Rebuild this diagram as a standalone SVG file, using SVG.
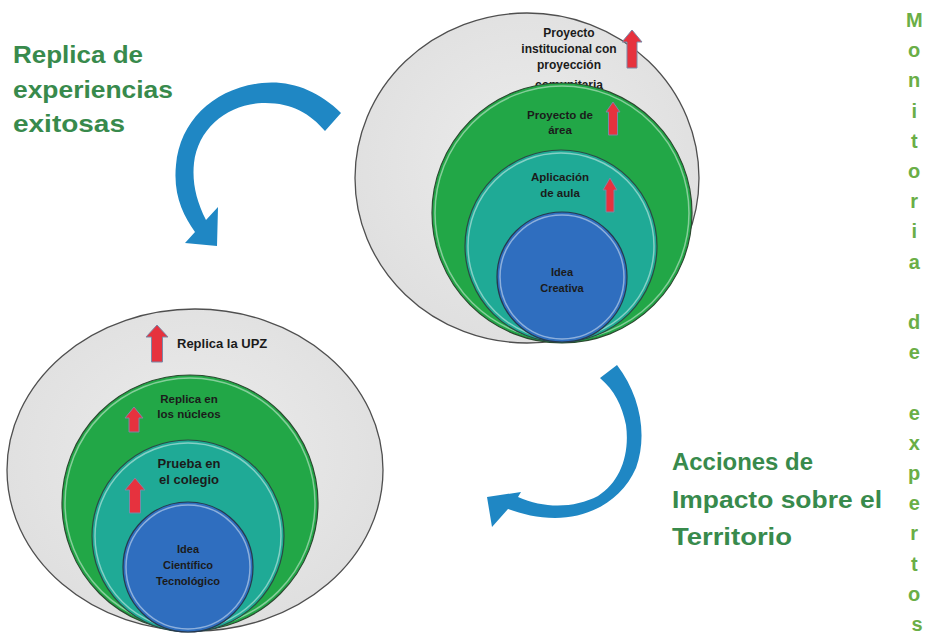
<svg xmlns="http://www.w3.org/2000/svg" width="929" height="639" viewBox="0 0 929 639">
<defs>
<radialGradient id="gOuter" cx="50%" cy="45%" r="60%">
<stop offset="0" stop-color="#ececec"/>
<stop offset="1" stop-color="#dedede"/>
</radialGradient>
<style>
.outer{fill:url(#gOuter);stroke:#4f4f4f;stroke-width:1.3}
.green{fill:#22a747;stroke:#2b4a30;stroke-width:1.2}
.teal{fill:#1faa96;stroke:#2b4a45;stroke-width:1.2}
.blue{fill:#2f6ebf;stroke:#27384f;stroke-width:1.2}
.rim{fill:none;stroke:#ffffff;stroke-opacity:0.45;stroke-width:1.5}
.red{fill:#e6323e;stroke:#7b88a6;stroke-width:1}
.lbl{font-family:"Liberation Sans",Arial,sans-serif;font-weight:bold;fill:#1b1b1b;text-anchor:middle}
.title{font-family:"Liberation Sans",Arial,sans-serif;font-weight:bold;font-size:24px;fill:#388a4c}
.vert{font-family:"Liberation Sans",Arial,sans-serif;font-weight:bold;font-size:20px;fill:#6aae47;text-anchor:middle}
.curve{fill:#1f87c4}
</style>
</defs>
<rect width="929" height="639" fill="#ffffff"/>

<g id="titulo-replica">
<text class="title" x="13" y="63" textLength="130" lengthAdjust="spacingAndGlyphs">Replica de</text>
<text class="title" x="13" y="98" textLength="160" lengthAdjust="spacingAndGlyphs">experiencias</text>
<text class="title" x="13" y="132" textLength="112" lengthAdjust="spacingAndGlyphs">exitosas</text>
</g>

<g id="titulo-acciones">
<text class="title" x="672" y="470" textLength="141" lengthAdjust="spacingAndGlyphs">Acciones de</text>
<text class="title" x="672" y="508" textLength="210" lengthAdjust="spacingAndGlyphs">Impacto sobre el</text>
<text class="title" x="672" y="545" textLength="120" lengthAdjust="spacingAndGlyphs">Territorio</text>
</g>

<g id="monitoria">
<text class="vert">
<tspan x="917" y="27">M</tspan>
<tspan x="917" y="57.2">o</tspan>
<tspan x="917" y="87.4">n</tspan>
<tspan x="917" y="117.6">i</tspan>
<tspan x="917" y="147.8">t</tspan>
<tspan x="917" y="178">o</tspan>
<tspan x="917" y="208.2">r</tspan>
<tspan x="917" y="238.4">i</tspan>
<tspan x="917" y="268.6">a</tspan>
<tspan x="917" y="329">d</tspan>
<tspan x="917" y="359.2">e</tspan>
<tspan x="917" y="419.6">e</tspan>
<tspan x="917" y="449.8">x</tspan>
<tspan x="917" y="480">p</tspan>
<tspan x="917" y="510.2">e</tspan>
<tspan x="917" y="540.4">r</tspan>
<tspan x="917" y="570.6">t</tspan>
<tspan x="917" y="600.8">o</tspan>
<tspan x="917" y="631">s</tspan>
</text>
</g>

<g id="nivel-institucional">
<ellipse class="outer" cx="527" cy="178" rx="172" ry="165"/>
<text class="lbl" font-size="12" x="569" y="37">Proyecto</text>
<text class="lbl" font-size="12" x="569" y="53">institucional con</text>
<text class="lbl" font-size="12" x="569" y="69">proyección</text>
<text class="lbl" font-size="12" x="569" y="89">comunitaria</text>
<path class="red" d="M632,30 L642,42 L637,42 L637,68 L627,68 L627,42 L622,42 Z"/>

<g id="nivel-area">
<circle class="green" cx="562" cy="213" r="130"/>
<circle class="rim" cx="562" cy="213" r="127"/>
<text class="lbl" font-size="11.5" x="560" y="119">Proyecto de</text>
<text class="lbl" font-size="11.5" x="560" y="134">área</text>
<path class="red" d="M613,102 L620,112 L617.5,112 L617.5,135 L608.5,135 L608.5,112 L606,112 Z"/>
</g>

<g id="nivel-aula">
<circle class="teal" cx="561" cy="246" r="96"/>
<circle class="rim" cx="561" cy="246" r="93"/>
<text class="lbl" font-size="11.5" x="560" y="181">Aplicación</text>
<text class="lbl" font-size="11.5" x="560" y="197">de aula</text>
<path class="red" d="M610,178 L617,190 L614,190 L614,212 L606,212 L606,190 L603,190 Z"/>
</g>

<g id="idea-creativa">
<circle class="blue" cx="562" cy="277" r="65"/>
<circle class="rim" cx="562" cy="277" r="62"/>
<text class="lbl" font-size="11" x="562" y="276">Idea</text>
<text class="lbl" font-size="11" x="562" y="292">Creativa</text>
</g>
</g>

<g id="nivel-upz">
<ellipse class="outer" cx="195" cy="470" rx="188" ry="161"/>
<text class="lbl" font-size="13" x="177" y="348" style="text-anchor:start">Replica la UPZ</text>
<path class="red" d="M157,325 L168,337 L162.5,337 L162.5,362 L151.5,362 L151.5,337 L146,337 Z"/>

<g id="nivel-nucleos">
<circle class="green" cx="190" cy="503" r="128"/>
<circle class="rim" cx="190" cy="503" r="125"/>
<text class="lbl" font-size="11.5" x="189" y="403">Replica en</text>
<text class="lbl" font-size="11.5" x="189" y="418">los núcleos</text>
<path class="red" d="M134,407 L143,418 L139,418 L139,432 L129,432 L129,418 L125,418 Z"/>
</g>

<g id="nivel-colegio">
<circle class="teal" cx="188" cy="536" r="96"/>
<circle class="rim" cx="188" cy="536" r="93"/>
<text class="lbl" font-size="13" x="189" y="468">Prueba en</text>
<text class="lbl" font-size="13" x="189" y="484">el colegio</text>
<path class="red" d="M135,478 L145,490 L140.5,490 L140.5,513 L129.5,513 L129.5,490 L125,490 Z"/>
</g>

<g id="idea-cientifico">
<circle class="blue" cx="188" cy="567" r="65"/>
<circle class="rim" cx="188" cy="567" r="62"/>
<text class="lbl" font-size="11" x="188" y="553">Idea</text>
<text class="lbl" font-size="11" x="188" y="569">Científico</text>
<text class="lbl" font-size="11" x="188" y="585">Tecnológico</text>
</g>
</g>

<g id="conectores">
<path class="curve" d="M341,113 C318,90 290,80 262,83 C215,88 180,120 176,165 C173,195 183,215 195,232 L185,243 L217,246 L218,207 L206,220 C196,200 192,182 194,163 C198,128 228,104 262,103 C290,102 310,113 325,131 Z"/>
<path class="curve" d="M617,365 C640,395 648,435 636,468 C622,500 590,518 555,518 C538,518 522,514 508,509 L492,527 L487,497 L521,492 L518,497 C545,509 575,508 598,496 C620,482 630,455 626,425 C622,405 614,390 600,378 Z"/>
</g>
</svg>
